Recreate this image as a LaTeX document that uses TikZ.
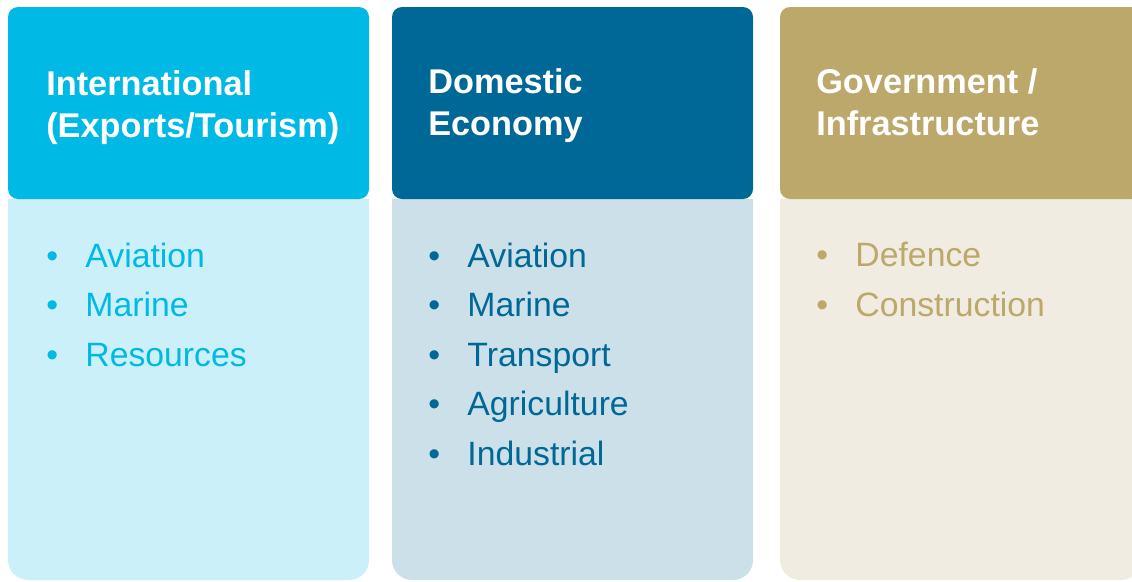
\documentclass[tikz,border=0pt]{standalone}
\usepackage{fontspec}
\setmainfont{Liberation Sans}
\usepackage{tikz}
\definecolor{intblue}{HTML}{00B9E4}
\definecolor{intlight}{HTML}{CCF0F9}
\definecolor{domblue}{HTML}{006896}
\definecolor{domlight}{HTML}{CCE0E9}
\definecolor{govgold}{HTML}{BDA86B}
\definecolor{govlight}{HTML}{F1ECE1}
\newcommand{\bitem}[1]{\makebox[0.98cm][l]{•}#1}

\begin{document}
\begin{tikzpicture}[x=0.025cm, y=-0.025cm,
    hdtext/.style={anchor=base west, align=left, inner sep=0pt, white,
      font=\fontsize{24.4}{29.2}\selectfont\bfseries},
    items/.style={anchor=base west, align=left, inner sep=0pt,
      font=\fontsize{24}{35.2}\selectfont}]

  \useasboundingbox (0,0) rectangle (1132,581);
  \clip (0,0) rectangle (1132,581);

  % --- the three columns: light body, dark header on top
  \fill[intlight] (8,199) [rounded corners=0.5cm] -- (8,580) -- (369,580)
        [sharp corners] -- (369,199) -- cycle;
  \fill[intblue,rounded corners=0.25cm] (8,7) rectangle (369,199);

  \fill[domlight] (392,199) [rounded corners=0.5cm] -- (392,580) -- (753,580)
        [sharp corners] -- (753,199) -- cycle;
  \fill[domblue,rounded corners=0.25cm] (392,7) rectangle (753,199);

  \fill[govlight] (780,199) [rounded corners=0.5cm] -- (780,580) -- (1141,580)
        [sharp corners] -- (1141,199) -- cycle;
  \fill[govgold,rounded corners=0.25cm] (780,7) rectangle (1141,199);

  % --- headings (anchored on the last line's baseline)
  \node[hdtext] (inthead) at (46,137)  {International\\(Exports/Tourism)};
  \node[hdtext] (domhead) at (428,135) {Domestic\\Economy};
  \node[hdtext] (govhead) at (816,135) {Government /\\Infrastructure};

  % --- bullet lists, rows 49.5 apart from 267 down
  \node[items,intblue] (intlist) at (46,366)
       {\bitem{Aviation}\\\bitem{Marine}\\\bitem{Resources}};
  \node[items,domblue] (domlist) at (428,465)
       {\bitem{Aviation}\\\bitem{Marine}\\\bitem{Transport}\\\bitem{Agriculture}\\\bitem{Industrial}};
  \node[items,govgold] (govlist) at (816,316)
       {\bitem{Defence}\\\bitem{Construction}};
\end{tikzpicture}
\end{document}
